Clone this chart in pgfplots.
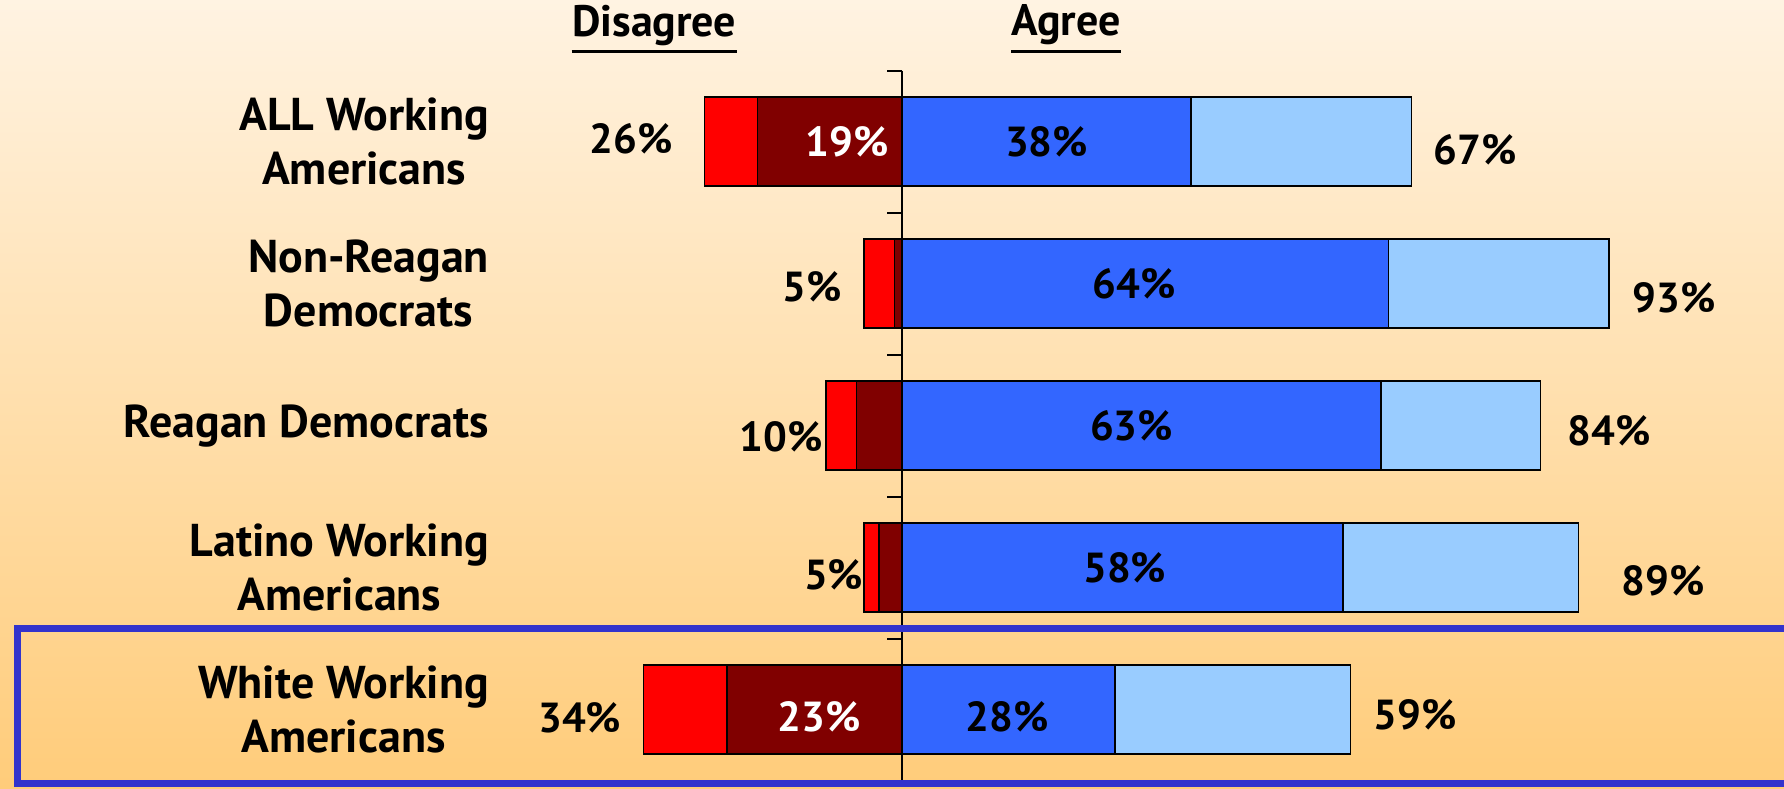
\documentclass[border=0pt]{standalone}
\usepackage{fontspec}
\setmainfont{PT Sans}
\usepackage{pgfplots}
\usepackage{pgfplotstable}
\pgfplotsset{compat=1.18}
\definecolor{sred}{RGB}{255,0,0}
\definecolor{dred}{RGB}{128,0,0}
\definecolor{sblue}{RGB}{51,102,255}
\definecolor{lblue}{RGB}{153,204,255}
\definecolor{bgtop}{RGB}{255,243,226}
\definecolor{bgbot}{RGB}{255,204,122}
\definecolor{hl}{RGB}{51,51,204}
\tikzset{lab/.style={font=\bfseries\fontsize{21}{26.7}\selectfont, align=center},
  cat/.style={font=\bfseries\fontsize{23}{26.7}\selectfont, align=center, anchor=east, inner sep=0pt},
  hdr/.style={font=\bfseries\fontsize{22}{26}\selectfont, inner sep=0pt}}
\pgfplotstableread{
idx disTot disStrong agrStrong agrTot
0 -26 -19 38 67
1 -5 -1 64 93
2 -10 -6 63 84
3 -5 -3 58 89
4 -34 -23 28 59
}\data
\begin{document}
\begin{tikzpicture}
\shade[top color=bgtop, bottom color=bgbot] (0,-3.75pt) rectangle (892pt,390.27pt);
\begin{axis}[
  at={(0,0)}, anchor=south west,
  scale only axis, width=892pt, height=355pt,
  xmin=-118.67, xmax=116.03, ymin=-0.5, ymax=4.5, y dir=reverse,
  hide axis, clip=false,
  every axis plot/.append style={xbar, bar width=0.625, bar shift=0pt, draw=black, line width=0.75pt},
]
\addplot[fill=sred] table[x=disTot, y=idx] {\data};
\addplot[fill=dred] table[x=disStrong, y=idx] {\data};
\addplot[fill=lblue] table[x=agrTot, y=idx] {\data};
\addplot[fill=sblue] table[x=agrStrong, y=idx] {\data};
% zero axis with category separators
\draw[line width=1pt] (axis cs:0,-0.5) -- (axis cs:0,4.5);
\pgfplotsinvokeforeach{-0.5,0.5,1.5,2.5,3.5,4.5}{
  \draw[line width=1pt] (axis cs:0,#1) -- (axis cs:-1.95,#1);
}
% headers
\node[hdr] (dh) at (axis cs:-32.6,-0.82) {Disagree};
\draw[line width=1.6pt] ([yshift=-3pt]dh.south west) -- ([yshift=-3pt]dh.south east);
\node[hdr] (ah) at (axis cs:21.6,-0.82) {Agree};
\draw[line width=1.6pt] ([yshift=-3pt]ah.south west) -- ([yshift=-3pt]ah.south east);
% category labels
\node[cat] at (axis cs:-54.3,0) {ALL Working\\Americans};
\node[cat] at (axis cs:-54.3,1) {Non-Reagan\\Democrats};
\node[cat] at (axis cs:-54.3,2) {Reagan Democrats};
\node[cat] at (axis cs:-54.3,3) {Latino Working\\Americans};
\node[cat] at (axis cs:-54.3,4) {White Working\\Americans};
% value labels
\node[lab] at (axis cs:-35.6,-0.02) {26\%};
\node[lab, text=white] at (axis cs:-7.2,0) {19\%};
\node[lab] at (axis cs:19.0,0) {38\%};
\node[lab] at (axis cs:75.4,0.06) {67\%};
\node[lab] at (axis cs:-11.8,1.02) {5\%};
\node[lab] at (axis cs:30.5,1.0) {64\%};
\node[lab] at (axis cs:101.6,1.10) {93\%};
\node[lab] at (axis cs:-15.9,2.08) {10\%};
\node[lab] at (axis cs:30.2,2.0) {63\%};
\node[lab] at (axis cs:93.0,2.04) {84\%};
\node[lab] at (axis cs:-9.0,3.05) {5\%};
\node[lab] at (axis cs:29.3,3.0) {58\%};
\node[lab] at (axis cs:100.1,3.09) {89\%};
\node[lab] at (axis cs:-42.4,4.06) {34\%};
\node[lab, text=white] at (axis cs:-10.9,4.05) {23\%};
\node[lab] at (axis cs:13.8,4.05) {28\%};
\node[lab] at (axis cs:67.5,4.04) {59\%};
\end{axis}
\begin{scope}
\clip (0,-3.75pt) rectangle (892pt,390.27pt);
\draw[hl, line width=3.5pt] (8.5pt,-1.3pt) rectangle (900pt,75.8pt);
\end{scope}
\pgfresetboundingbox
\useasboundingbox (0,-3.75pt) rectangle (892pt,390.27pt);
\end{tikzpicture}
\end{document}
